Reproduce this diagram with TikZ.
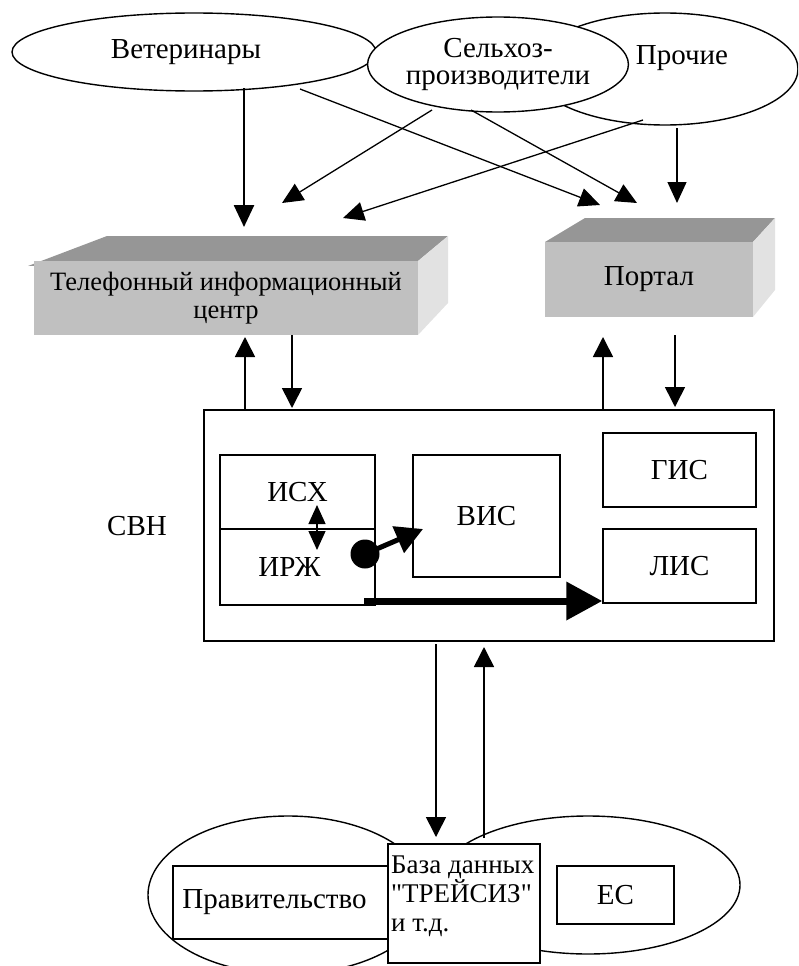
\documentclass[tikz,border=0pt]{standalone}
\usepackage{fontspec}
\setmainfont{Liberation Serif}
\newfontfamily\rawserif{Liberation Serif}[Ligatures=TeXOff]
\usetikzlibrary{shapes.geometric,arrows.meta}
\definecolor{topgray}{HTML}{969696}
\definecolor{frontgray}{HTML}{C0C0C0}
\definecolor{sidegray}{HTML}{E2E2E2}
\begin{document}
\begin{tikzpicture}[x=1pt,y=-1pt,
  big/.style={font=\fontsize{29}{27}\selectfont},
  mid/.style={font=\fontsize{26.5}{28}\selectfont},
  ell/.style={draw, ellipse, fill=white, line width=1.4pt, inner sep=0pt, big},
  bx/.style={draw, rectangle, fill=white, line width=1.5pt, inner sep=0pt, big},
  front/.style={rectangle, fill=frontgray, inner sep=0pt},
  txt/.style={inner sep=0pt, big},
  arr/.style={line width=1.3pt, -{Triangle[length=21pt,width=19pt]}},
  arrb/.style={line width=1.6pt, -{Triangle[length=20pt,width=20pt]}},
  arrthick/.style={line width=2.6pt, -{Triangle[length=22pt,width=20pt]}},
]
\useasboundingbox (0,0) rectangle (798,966);
\clip (0,0) rectangle (798,966);

% ---- top ellipses
\node[ell, minimum width=266pt, minimum height=112pt] (proch) at (665,69) {};
\node[ell, minimum width=364pt, minimum height=78pt] (vet) at (194,52) {};
\node[txt] (vetT) at (186,52) {Ветеринары};
\node[ell, minimum width=248pt, minimum height=95pt, align=center] (selh) at (498,64.5) {Сельхоз-\\производители};
\node[txt] (prochT) at (682,58) {Прочие};

% ---- 3D box: telephone centre
\fill[topgray] (28,266) -- (107,236) -- (448,236) -- (418,261) -- cycle;
\fill[sidegray] (418,261) -- (448,236) -- (448,303) -- (418,335) -- cycle;
\node[front, mid, minimum width=384pt, minimum height=74pt, align=center] (tel) at (226,298) {Телефонный информационный\\центр};

% ---- 3D box: portal
\fill[topgray] (545,242) -- (585,218) -- (775,218) -- (753,242) -- cycle;
\fill[sidegray] (753,242) -- (775,218) -- (775,290) -- (753,317) -- cycle;
\node[front, big, minimum width=208pt, minimum height=75pt] (port) at (649,279.5) {Портал};

% ---- arrows from the ellipses
\coordinate (v1) at (244,88);  \coordinate (v1e) at (244,227);
\coordinate (v2) at (300,89);  \coordinate (v2e) at (600,205);
\coordinate (s1) at (432,110); \coordinate (s1e) at (282,203);
\coordinate (s2) at (471,110); \coordinate (s2e) at (637,203);
\coordinate (p1) at (643,120); \coordinate (p1e) at (343,218);
\coordinate (p2) at (677,128); \coordinate (p2e) at (677,203);
\draw[arrthick] (v1) -- (v1e);
\draw[arr] (v2) -- (v2e);
\draw[arr] (s1) -- (s1e);
\draw[arr] (s2) -- (s2e);
\draw[arr] (p1) -- (p1e);
\draw[arr] (p2) -- (p2e);

% ---- SVN
\node[bx, line width=1.8pt, minimum width=570pt, minimum height=231pt] (svn) at (489,525.5) {};
\node[txt] (svnT) at (137,526) {СВН};
\node[bx, minimum width=155pt, minimum height=74pt] (isx) at (297.5,492) {ИСХ};
\node[bx, minimum width=155pt, minimum height=76pt] (irz) at (297.5,567) {\hspace*{-16pt}ИРЖ};
\node[bx, minimum width=147pt, minimum height=122pt] (vis) at (486.5,516) {ВИС};
\node[bx, minimum width=153pt, minimum height=74pt] (gis) at (679.5,470) {ГИС};
\node[bx, minimum width=153pt, minimum height=74pt] (lis) at (679.5,566) {ЛИС};

% ---- arrows between boxes and SVN
\coordinate (a1) at (245,337); \coordinate (a2) at (292,335); \coordinate (a2e) at (292,408);
\coordinate (b1) at (603,337); \coordinate (b2) at (675,335); \coordinate (b2e) at (675,407);
\draw[arrb] (svn.north -| a1) -- (a1);
\draw[arrb] (a2) -- (a2e);
\draw[arrb] (svn.north -| b1) -- (b1);
\draw[arrb] (b2) -- (b2e);

% ---- inner arrows
\coordinate (dA) at (317,505); \coordinate (dB) at (317,550);
\draw[line width=1.3pt, {Triangle[length=19pt,width=17pt]}-{Triangle[length=19pt,width=17pt]}] (dA) -- (dB);
\node[circle, fill=black, minimum size=29pt, inner sep=0pt] (dot) at (365,554) {};
\coordinate (dotE) at (423,529);
\draw[line width=5pt, -{Triangle[length=27pt,width=28pt]}] (dot.center) -- (dotE);
\coordinate (bar) at (364,601);
\draw[line width=7pt, -{Triangle[length=36pt,width=37pt]}] (bar) -- (bar -| lis.west);

% ---- bottom ellipses and boxes
\node[ell, minimum width=280pt, minimum height=158pt] (gov) at (288,895) {};
\node[ell, minimum width=304pt, minimum height=138pt] (ec) at (588,885) {};
\node[bx, minimum width=215pt, minimum height=73pt] (govB) at (280.5,902.5) {\hspace*{-12pt}Правительство};
\node[bx, minimum width=152pt, minimum height=119pt] (db) at (464,903.5) {};
\node[inner sep=0pt, align=left, anchor=west, font=\rawserif\fontsize{27}{29}\selectfont] (dbT) at (391,896) {База данных\\"ТРЕЙСИЗ"\\и т.д.};
\node[bx, minimum width=117pt, minimum height=58pt] (ecB) at (615.5,895) {ЕС};

% ---- arrows SVN <-> database
\coordinate (d1) at (436,837); \coordinate (d0) at (436,644);
\coordinate (u1) at (484,838); \coordinate (u1e) at (484,647);
\draw[arrb] (d0) -- (d1);
\draw[arrb] (u1) -- (u1e);
\end{tikzpicture}
\end{document}
